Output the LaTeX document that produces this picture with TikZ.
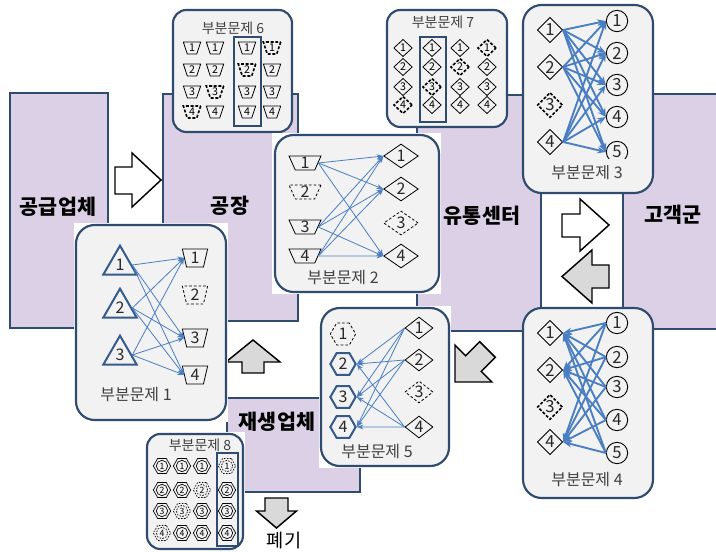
\documentclass[tikz,border=0pt]{standalone}
\usepackage{fontspec}
\setmainfont{Noto Sans CJK KR}
\usetikzlibrary{shapes.geometric,arrows.meta}
\definecolor{pur}{RGB}{220,208,230}
\definecolor{frame}{RGB}{47,75,110}
\definecolor{boxbg}{RGB}{242,242,242}
\definecolor{arr}{RGB}{74,126,194}
\definecolor{shp}{RGB}{54,90,140}
\definecolor{blockgray}{RGB}{217,217,217}
\definecolor{txt}{RGB}{64,64,64}
\definecolor{numc}{RGB}{40,40,40}
\tikzset{
 entity/.style={fill=pur,draw=frame,line width=1.4pt},
 spbox/.style={fill=boxbg,draw=frame,line width=1.6pt,rounded corners=14pt},
 spsmall/.style={fill=boxbg,draw=frame,line width=1.6pt,rounded corners=10pt},
 hilite/.style={draw=frame,line width=1.3pt},
 blockw/.style={draw=black,line width=1.1pt,fill=white,line join=miter},
 blockg/.style={draw=black,line width=1.1pt,fill=blockgray,line join=miter},
 biglabel/.style={font=\fontsize{15.5}{17}\selectfont\bfseries,text=black,inner sep=0pt},
 sptitle/.style={font=\fontsize{12}{14}\selectfont,text=txt,inner sep=0pt},
 smalltitle/.style={font=\fontsize{10.5}{12}\selectfont,text=txt,inner sep=0pt},
 num/.style={font=\fontsize{12}{12}\selectfont,text=numc,inner sep=0pt},
 numb/.style={font=\fontsize{12.5}{12.5}\selectfont,text=numc,inner sep=0pt},
 trapA/.style={num,draw,line width=0.6pt,trapezium,trapezium stretches=true,shape border rotate=180,trapezium angle=76,minimum width=24pt,minimum height=10.5pt},
 trapB/.style={num,draw,line width=0.6pt,trapezium,trapezium stretches=true,shape border rotate=180,trapezium angle=79,minimum width=19pt,minimum height=13.5pt},
 dmdA/.style={num,draw,line width=0.6pt,diamond,minimum width=26pt,minimum height=18pt},
 dmdB/.style={numb,draw,line width=0.7pt,diamond,minimum width=19pt,minimum height=19pt},
 dmdC/.style={num,draw,line width=0.6pt,diamond,minimum width=21pt,minimum height=16.5pt},
 circA/.style={numb,draw,line width=0.7pt,circle,minimum size=16pt},
 hexA/.style={num,draw=shp,line width=1.5pt,regular polygon,regular polygon sides=6,minimum size=19pt},
 triA/.style={num,draw=shp,line width=1.5pt,regular polygon,regular polygon sides=3,minimum size=29pt},
 ghost/.style={draw=black,line width=0.6pt,dash pattern=on 2pt off 1.5pt},
 ghostB/.style={draw=black,line width=1.2pt,dash pattern=on 2.2pt off 1.3pt},
 trapS/.style={font=\fontsize{8}{8}\selectfont,inner sep=0pt,draw,line width=0.6pt,trapezium,trapezium stretches=true,shape border rotate=180,trapezium angle=72,minimum width=13pt,minimum height=9pt},
 dmdS/.style={font=\fontsize{8}{8}\selectfont,inner sep=0pt,draw,line width=0.6pt,diamond,minimum width=14pt,minimum height=13pt},
 hexS/.style={draw,line width=0.5pt,regular polygon,regular polygon sides=6,minimum size=13pt,inner sep=0pt},
 circS/.style={draw,line width=0.5pt,circle,minimum size=8.5pt,inner sep=0pt,font=\fontsize{6.5}{6.5}\selectfont},
 lnkthin/.style={draw=arr,line width=0.6pt,-{Stealth[length=5pt,width=3.6pt]}},
 lnkthick/.style={draw=arr,line width=1.4pt,-{Stealth[length=6.5pt,width=5pt]}},
}
\begin{document}
\begin{tikzpicture}[x=0.75pt,y=-0.75pt]
\useasboundingbox (0,0) rectangle (716,552);
\clip (0,0) rectangle (716,552);
\fill[white] (0,0) rectangle (716,552);

% entities
\draw[entity] (10,93) rectangle (108,328);
\draw[entity] (163,94) rectangle (298,321);
\draw[entity] (417,95) rectangle (541,331);
\draw[entity] (623,94) rectangle (722,329);
\draw[entity] (227,398) rectangle (360,492);
\node[biglabel] (lsup) at (58,207) {공급업체};
\node[biglabel] (lfac) at (230,206) {공장};
\node[biglabel] (ldc) at (482,216) {유통센터};
\node[biglabel] (lcus) at (673,215) {고객군};
\node[biglabel] (lrec) at (277,422) {재생업체};

% block arrows
\draw[blockw] (115,167) -- (132,167) -- (132,153) -- (161,180) -- (132,207) -- (132,194) -- (115,194) -- cycle;
\draw[blockw] (562,214) -- (580,214) -- (580,199) -- (609,225) -- (580,251) -- (580,237) -- (562,237) -- cycle;
\draw[blockg] (609,265) -- (592,265) -- (592,250) -- (562,276.5) -- (592,303) -- (592,288) -- (609,288) -- cycle;
\draw[blockg] (242,373) -- (242,362) -- (226,362) -- (253,340) -- (280,362) -- (264,362) -- (264,373) -- cycle;
\draw[blockg] (455,382) -- (491.8,382) -- (481.2,371.4) -- (495.3,357.3) -- (479.7,341.7) -- (465.6,355.8) -- (455,345.2) -- cycle;
\draw[blockg] (265,498) -- (288,498) -- (288,511) -- (296.5,511) -- (276.5,528) -- (256.5,511) -- (265,511) -- cycle;
\node[font=\fontsize{14}{16}\selectfont,text=black,inner sep=0pt] (lwaste) at (284,541) {폐기};

% ---------- SP6 ----------
\draw[spsmall] (173,10) rectangle (292,132);
\node[smalltitle] (t6) at (233,28) {부분문제 6};
\foreach \c/\x in {1/192,2/215,3/247,4/272}{
  \foreach \r/\y in {1/48,2/70,3/92,4/112}{
    \pgfmathtruncatemacro{\s}{\c+\r}
    \ifnum\s=5
      \node[trapS,ghostB] (s6-\c-\r) at (\x,\y) {\r};
    \else
      \node[trapS] (s6-\c-\r) at (\x,\y) {\r};
    \fi
  }
}
\draw[hilite] (234,37) rectangle (261,126);

% ---------- SP7 ----------
\draw[spsmall] (387,10) rectangle (507,127);
\node[smalltitle] (t7) at (443,22) {부분문제 7};
\foreach \c/\x in {1/403,2/432,3/460,4/487}{
  \foreach \r/\y in {1/48,2/67,3/87,4/105}{
    \pgfmathtruncatemacro{\s}{\c+\r}
    \ifnum\s=5
      \node[dmdS,ghostB] (s7-\c-\r) at (\x,\y) {\r};
    \else
      \node[dmdS] (s7-\c-\r) at (\x,\y) {\r};
    \fi
  }
}
\draw[hilite] (420,37) rectangle (446,122);

% ---------- SP3 ----------
\draw[spbox] (523,5) rectangle (653,193);
\node[sptitle] (t3) at (587,173) {부분문제 3};
\node[dmdB] (d3-1) at (550,30) {1};
\node[dmdB] (d3-2) at (550,67) {2};
\node[dmdB,ghostB] (d3-3) at (550,105) {3};
\node[dmdB] (d3-4) at (550,142) {4};
\foreach \j/\y in {1/21,2/53,3/85,4/117,5/152}{
  \node[circA] (c3-\j) at (617,\y) {\j};
}
\fill[boxbg] (604,159.5) rectangle (631,165);
\foreach \i in {1,2,4}{\foreach \j in {1,...,5}{\draw[lnkthick] (d3-\i.east) -- (c3-\j.west);}}

% ---------- SP2 ----------
\fill[white] (272,133) rectangle (441,294);
\draw[spbox] (275,135) rectangle (439,292);
\node[sptitle] (t2) at (343,278) {부분문제 2};
\node[trapA] (t2-1) at (305,163) {1};
\node[trapA,ghost] (t2-2) at (305,192) {2};
\node[trapA] (t2-3) at (305,227) {3};
\node[trapA] (t2-4) at (305,256) {4};
\node[dmdA] (d2-1) at (401,156) {1};
\node[dmdA] (d2-2) at (401,189) {2};
\node[dmdA,ghost] (d2-3) at (401,223) {3};
\node[dmdA] (d2-4) at (401,256) {4};
\foreach \i in {1,3,4}{\foreach \j in {1,2,4}{\draw[lnkthin] (t2-\i.east) -- (d2-\j.west);}}

% ---------- SP1 ----------
\fill[white] (74,223) rectangle (228,422);
\draw[spbox] (76,225) rectangle (226,420);
\node[sptitle] (t1) at (136,395) {부분문제 1};
\node[triA] (r1-1) at (120,265) {1};
\node[triA] (r1-2) at (120,308) {2};
\node[triA] (r1-3) at (120,355) {3};
\node[trapB] (q1-1) at (195,258) {1};
\node[trapB,ghost] (q1-2) at (195,295) {2};
\node[trapB] (q1-3) at (195,338) {3};
\node[trapB] (q1-4) at (195,375) {4};
\foreach \i in {1,2,3}{\foreach \j in {1,3,4}{\draw[lnkthin] (r1-\i.east) -- (q1-\j.west);}}

% ---------- SP5 ----------
\fill[white] (319,306) rectangle (451,468);
\draw[spbox] (321,308) rectangle (449,466);
\node[sptitle] (t5) at (377,452) {부분문제 5};
\node[hexA,ghost] (h5-1) at (343,334) {1};
\node[hexA] (h5-2) at (343,364) {2};
\node[hexA] (h5-3) at (343,397) {3};
\node[hexA] (h5-4) at (343,427) {4};
\node[dmdC] (d5-1) at (419,328) {1};
\node[dmdC] (d5-2) at (419,360) {2};
\node[dmdC,ghost] (d5-3) at (419,392) {3};
\node[dmdC] (d5-4) at (419,427) {4};
\foreach \i in {1,2,4}{\foreach \j in {2,3,4}{\draw[lnkthin] (d5-\i.west) -- (h5-\j.east);}}

% ---------- SP4 ----------
\draw[spbox] (523,308) rectangle (653,498);
\node[sptitle] (t4) at (587,480) {부분문제 4};
\node[dmdB] (d4-1) at (550,333) {1};
\node[dmdB] (d4-2) at (550,370) {2};
\node[dmdB,ghostB] (d4-3) at (550,407) {3};
\node[dmdB] (d4-4) at (550,442) {4};
\foreach \j/\y in {1/323,2/357,3/387,4/420,5/453}{
  \node[circA] (c4-\j) at (617,\y) {\j};
}
\foreach \j in {1,...,5}{\foreach \i in {1,2,4}{\draw[lnkthick] (c4-\j.west) -- (d4-\i.east);}}

% ---------- SP8 ----------
\fill[white] (145,432) rectangle (245,552);
\draw[spsmall] (147,434) rectangle (243,549);
\node[smalltitle] (t8) at (200,445) {부분문제 8};
\foreach \c/\x in {1/162,2/182,3/202,4/227}{
  \foreach \r/\y in {1/466,2/490,3/511,4/533}{
    \pgfmathtruncatemacro{\s}{\c+\r}
    \ifnum\s=5
      \node[hexS,dash pattern=on 1.2pt off 1pt] (x8-\c-\r) at (\x,\y) {};
      \node[circS,dash pattern=on 1.2pt off 1pt] (y8-\c-\r) at (\x,\y) {\r};
    \else
      \node[hexS] (x8-\c-\r) at (\x,\y) {};
      \node[circS] (y8-\c-\r) at (\x,\y) {\r};
    \fi
  }
}
\draw[hilite] (217,453) rectangle (238,546);
\end{tikzpicture}
\end{document}
